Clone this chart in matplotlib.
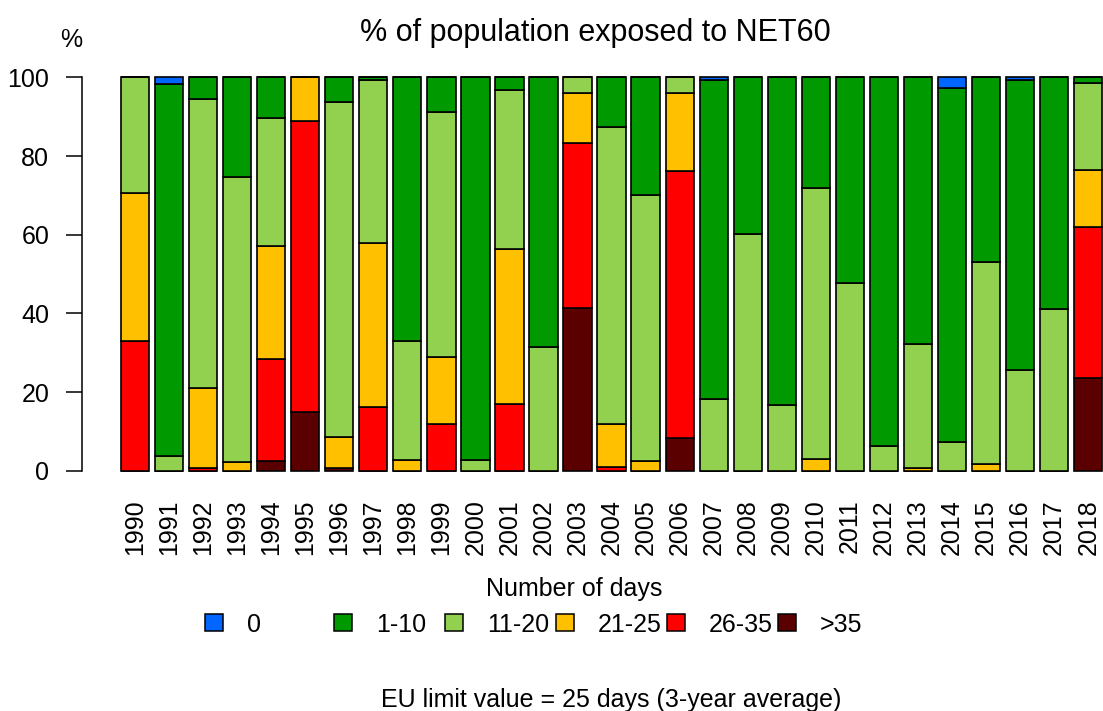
import numpy as np
import matplotlib.pyplot as plt
from matplotlib.patches import Rectangle

plt.rcParams['font.family'] = ['Liberation Sans', 'DejaVu Sans']

years = [str(y) for y in range(1990, 2019)]
classes = ['0', '1-10', '11-20', '21-25', '26-35', '>35']
colours = ['#0066FF', '#009900', '#92D050', '#FFC000', '#FF0000', '#5A0000']

# share of population (%) per class of exceedance days
d0 = [0, 1.7, 0, 0, 0, 0, 0, 0, 0, 0, 0, 0, 0, 0, 0, 0, 0, 0.6, 0, 0,
      0, 0, 0, 0, 2.8, 0, 0.8, 0, 0]
d1_10 = [0, 94.6, 5.5, 25.3, 10.3, 0, 6.3, 0.6, 67.0, 8.8, 97.4, 3.3, 68.5,
         0, 12.7, 29.8, 0, 81.1, 39.8, 83.4, 28.2, 52.3, 93.8, 67.8, 90.0,
         47.0, 73.6, 59.0, 1.5]
d11_20 = [29.3, 3.7, 73.5, 72.4, 32.5, 0, 85.2, 41.6, 30.2, 62.2, 2.6, 40.4,
          31.5, 4.0, 75.5, 67.7, 3.9, 18.3, 60.2, 16.6, 68.8, 47.7, 6.2,
          31.6, 7.2, 51.3, 25.6, 41.0, 22.0]
d21_25 = [37.7, 0, 20.2, 2.3, 28.9, 11.2, 7.9, 41.5, 2.8, 17.2, 0, 39.3, 0,
          12.8, 10.8, 2.5, 19.8, 0, 0, 0, 3.0, 0, 0, 0.6, 0, 1.7, 0, 0, 14.5]
d26_35 = [33.0, 0, 0.8, 0, 25.8, 73.8, 0, 16.3, 0, 11.8, 0, 17.0, 0, 41.9,
          1.0, 0, 68.0, 0, 0, 0, 0, 0, 0, 0, 0, 0, 0, 0, 38.4]
d35 = [0, 0, 0, 0, 2.5, 15.0, 0.6, 0, 0, 0, 0, 0, 0, 41.3, 0, 0, 8.3, 0, 0,
       0, 0, 0, 0, 0, 0, 0, 0, 0, 23.6]

W, H = 1103, 711
fig = plt.figure(figsize=(W / 100, H / 100), dpi=100)


def fx(px):
    return px / W


def fy(py):
    return 1 - py / H


ax = fig.add_axes([fx(82), fy(486.4), fx(W - 82), (486.4 - 61.6) / H])

# stack from the worst class at the bottom up to 0 days on top
series = [d35, d26_35, d21_25, d11_20, d1_10, d0]
cols = colours[::-1]
xpos = 0.2 + 1.2 * np.arange(len(years))
bottom = np.zeros(len(years))
for vals, c in zip(series, cols):
    vals = np.array(vals)
    ax.bar(xpos, vals, width=1, bottom=bottom, align='edge', color=c,
           edgecolor='black', linewidth=1.2)
    bottom += vals

ax.set_xlim(-1.164, -1.164 + (W - 82) / 28.375)
ax.set_ylim(-4, 104)
for s in ['top', 'right', 'bottom']:
    ax.spines[s].set_visible(False)
ax.spines['left'].set_bounds(0, 100)
ax.spines['left'].set_linewidth(1.1)
ax.set_yticks(range(0, 101, 20))
ax.tick_params(axis='y', length=11.5, width=1.1, pad=12, labelsize=18)
ax.set_xticks(xpos + 0.5)
ax.set_xticklabels(years, rotation=90, fontsize=18)
ax.tick_params(axis='x', length=0, pad=9.5)

fig.text(fx(595), fy(41), '% of population exposed to NET60', fontsize=22,
         ha='center', va='baseline')
fig.text(fx(71), fy(47), '%', fontsize=18, ha='center', va='baseline')
fig.text(fx(574), fy(596), 'Number of days', fontsize=18, ha='center',
         va='baseline')

# legend row
lx = [205, 334, 445, 556, 667, 778]
for x, lab, c in zip(lx, classes, colours):
    fig.patches.append(Rectangle((fx(x), fy(631)), fx(18), 17 / H,
                                 transform=fig.transFigure, facecolor=c,
                                 edgecolor='black', linewidth=1.1))
    fig.text(fx(x + 42), fy(632), lab, fontsize=18, ha='left', va='baseline')

fig.text(fx(611), fy(707), 'EU limit value = 25 days (3-year average)',
         fontsize=18, ha='center', va='baseline')

fig.savefig('out.png', dpi=100)
